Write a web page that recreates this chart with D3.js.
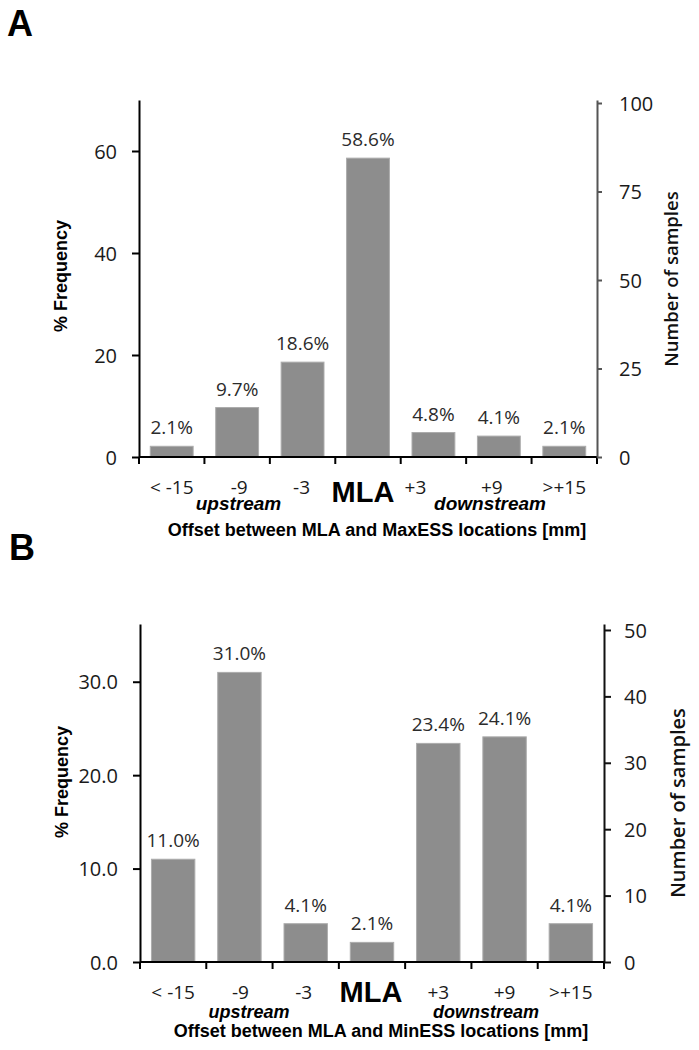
<!DOCTYPE html>
<html>
<head>
<meta charset="utf-8">
<script src="https://cdn.jsdelivr.net/npm/d3@7"></script>
<style>
  html, body { margin: 0; padding: 0; background: #fff; }
  svg { display: block; }
</style>
</head>
<body>
<svg id="chart" width="699" height="1050"></svg>
<script>
// ---------- data ----------
const categories = ["< -15", "-9", "-3", "MLA", "+3", "+9", ">+15"];
const valuesA = [2.1, 9.7, 18.6, 58.6, 4.8, 4.1, 2.1];
const valuesB = [11.0, 31.0, 4.1, 2.1, 23.4, 24.1, 4.1];
const leftTicksA = [0, 20, 40, 60];
const rightTicksA = [0, 25, 50, 75, 100];
const leftTicksB = [0, 10, 20, 30];
const rightTicksB = [0, 10, 20, 30, 40, 50];
const panelLabels = ["A", "B"];
const xTitles = ["Offset between MLA and MaxESS locations [mm]", "Offset between MLA and MinESS locations [mm]"];
const yLeftTitle = "% Frequency";
const yRightTitle = "Number of samples";
const sideWords = ["upstream", "downstream"];

// ---------- layout ----------
const svg = d3.select("#chart");
const SANS = "'Open Sans', 'Noto Sans', sans-serif";
const ARIAL = "'Liberation Sans', Arial, sans-serif";

const panels = [
  { label: panelLabels[0], values: valuesA, leftTicks: leftTicksA, rightTicks: rightTicksA,
    leftFmt: d3.format("d"), x0: 139, x1: 597, base: 457, top: 100, leftMax: 70, rightMax: 100.85,
    rightAxisColor: "#555", rightTickLen: 5, rightPad: 17, labelXY: [7, 36],
    xTitle: xTitles[0], xTitleY: 535.5, catY: 494, catDx: [0, 2, -1, -5, -18, -7, 0], mlaY: 501.5, mlaSize: 29,
    sideY: 510, sideX: [238.5, 490], sideSize: 19,
    yTitleX: 67, yTitleY: 276, rTitleX: 678, rTitleY: 279, rTitleSize: 18.5 },
  { label: panelLabels[1], values: valuesB, leftTicks: leftTicksB, rightTicks: rightTicksB,
    leftFmt: d3.format(".1f"), x0: 140, x1: 604, base: 962, top: 624, leftMax: 36.18, rightMax: 50.9,
    rightAxisColor: "#111", rightTickLen: 7, rightPad: 13, labelXY: [9, 560],
    xTitle: xTitles[1], xTitleY: 1037, catY: 998.5, catDx: [0, 1, -2, -1, 0, 0, 0], mlaY: 1002, mlaSize: 29,
    sideY: 1017.5, sideX: [249, 486], sideSize: 18,
    yTitleX: 68, yTitleY: 782, rTitleX: 685, rTitleY: 803, rTitleSize: 20 }
];

panels.forEach(p => {
  const g = svg.append("g");

  const x = d3.scaleBand().domain(categories).range([p.x0, p.x1])
    .paddingInner(0.345).paddingOuter(0.1725);
  const yL = d3.scaleLinear().domain([0, p.leftMax]).range([p.base, p.top]);
  const yR = d3.scaleLinear().domain([0, p.rightMax]).range([p.base, p.top]);

  // panel letter
  g.append("text").attr("x", p.labelXY[0]).attr("y", p.labelXY[1])
    .attr("font-family", ARIAL).attr("font-weight", "bold").attr("font-size", 36)
    .attr("fill", "#000").text(p.label);

  // bars
  g.selectAll("rect.bar").data(p.values).join("rect")
    .attr("class", "bar")
    .attr("x", (d, i) => x(categories[i]))
    .attr("width", x.bandwidth())
    .attr("y", d => yL(d))
    .attr("height", d => yL(0) - yL(d))
    .attr("fill", "#8d8d8d")
    .attr("stroke", "#acacac")
    .attr("stroke-width", 1);

  // value labels
  g.selectAll("text.val").data(p.values).join("text")
    .attr("class", "val")
    .attr("x", (d, i) => x(categories[i]) + x.bandwidth() / 2)
    .attr("y", d => yL(d) - 12)
    .attr("text-anchor", "middle")
    .attr("font-family", SANS).attr("font-size", 19).attr("fill", "#2b2b2b")
    .text(d => d.toFixed(1) + "%");

  // x axis baseline
  g.append("line").attr("x1", p.x0).attr("x2", p.x1)
    .attr("y1", yL(0)).attr("y2", yL(0))
    .attr("stroke", "#000").attr("stroke-width", 2);

  // x ticks at band boundaries
  const bounds = d3.range(categories.length + 1).map(i => x.range()[0] + i * x.step());
  g.selectAll("line.xt").data(bounds).join("line")
    .attr("class", "xt")
    .attr("x1", d => d).attr("x2", d => d)
    .attr("y1", yL(0)).attr("y2", yL(0) + 7)
    .attr("stroke", "#000").attr("stroke-width", 2);

  // category labels via axis
  const xAxis = g.append("g").attr("transform", `translate(0,${p.base})`)
    .call(d3.axisBottom(x).tickSize(0).tickPadding(0));
  xAxis.select(".domain").remove();
  xAxis.selectAll(".tick text")
    .attr("y", p.catY - p.base).attr("dy", 0)
    .attr("dx", (d, i) => p.catDx[i])
    .attr("font-family", SANS).attr("font-size", 19).attr("fill", "#1a1a1a")
    .each(function(d) {
      if (d === "MLA") {
        d3.select(this).attr("font-family", ARIAL).attr("font-weight", "bold")
          .attr("font-size", p.mlaSize).attr("fill", "#000")
          .attr("y", p.mlaY - p.base);
      }
    });

  // side words
  g.selectAll("text.side").data(sideWords).join("text")
    .attr("class", "side")
    .attr("x", (d, i) => p.sideX[i]).attr("y", p.sideY)
    .attr("text-anchor", "middle")
    .attr("font-family", ARIAL).attr("font-weight", "bold").attr("font-style", "italic")
    .attr("font-size", p.sideSize).attr("fill", "#000")
    .text(d => d);

  // x title
  g.append("text").attr("x", (p.x0 + p.x1) / 2 + 9).attr("y", p.xTitleY)
    .attr("text-anchor", "middle")
    .attr("font-family", ARIAL).attr("font-weight", "bold").attr("font-size", 18)
    .attr("fill", "#000").text(p.xTitle);

  // left axis
  const la = g.append("g").attr("transform", `translate(${p.x0},0)`)
    .call(d3.axisLeft(yL).tickValues(p.leftTicks).tickFormat(p.leftFmt)
      .tickSize(7).tickSizeOuter(0).tickPadding(15));
  la.select(".domain").attr("stroke", "#000").attr("stroke-width", 2);
  la.selectAll(".tick line").attr("stroke", "#000").attr("stroke-width", 2);
  la.selectAll(".tick text").attr("font-family", SANS).attr("font-size", 20)
    .attr("fill", "#1a1a1a").attr("dy", "0.36em");

  // right axis
  const ra = g.append("g").attr("transform", `translate(${p.x1},0)`)
    .call(d3.axisRight(yR).tickValues(p.rightTicks).tickFormat(d3.format("d"))
      .tickSize(p.rightTickLen).tickSizeOuter(0).tickPadding(p.rightPad));
  ra.select(".domain").attr("stroke", p.rightAxisColor).attr("stroke-width", 2);
  ra.selectAll(".tick line").attr("stroke", p.rightAxisColor).attr("stroke-width", 2);
  ra.selectAll(".tick text").attr("font-family", SANS).attr("font-size", 20)
    .attr("fill", "#1a1a1a").attr("dy", "0.36em");

  // y titles
  g.append("text")
    .attr("transform", `translate(${p.yTitleX},${p.yTitleY}) rotate(-90)`)
    .attr("text-anchor", "middle")
    .attr("font-family", ARIAL).attr("font-weight", "bold").attr("font-size", 18)
    .attr("fill", "#000").text(yLeftTitle);

  g.append("text")
    .attr("transform", `translate(${p.rTitleX},${p.rTitleY}) rotate(-90)`)
    .attr("text-anchor", "middle")
    .attr("font-family", SANS).attr("font-weight", 600).attr("font-size", p.rTitleSize)
    .attr("fill", "#111").text(yRightTitle);
});
</script>
</body>
</html>
